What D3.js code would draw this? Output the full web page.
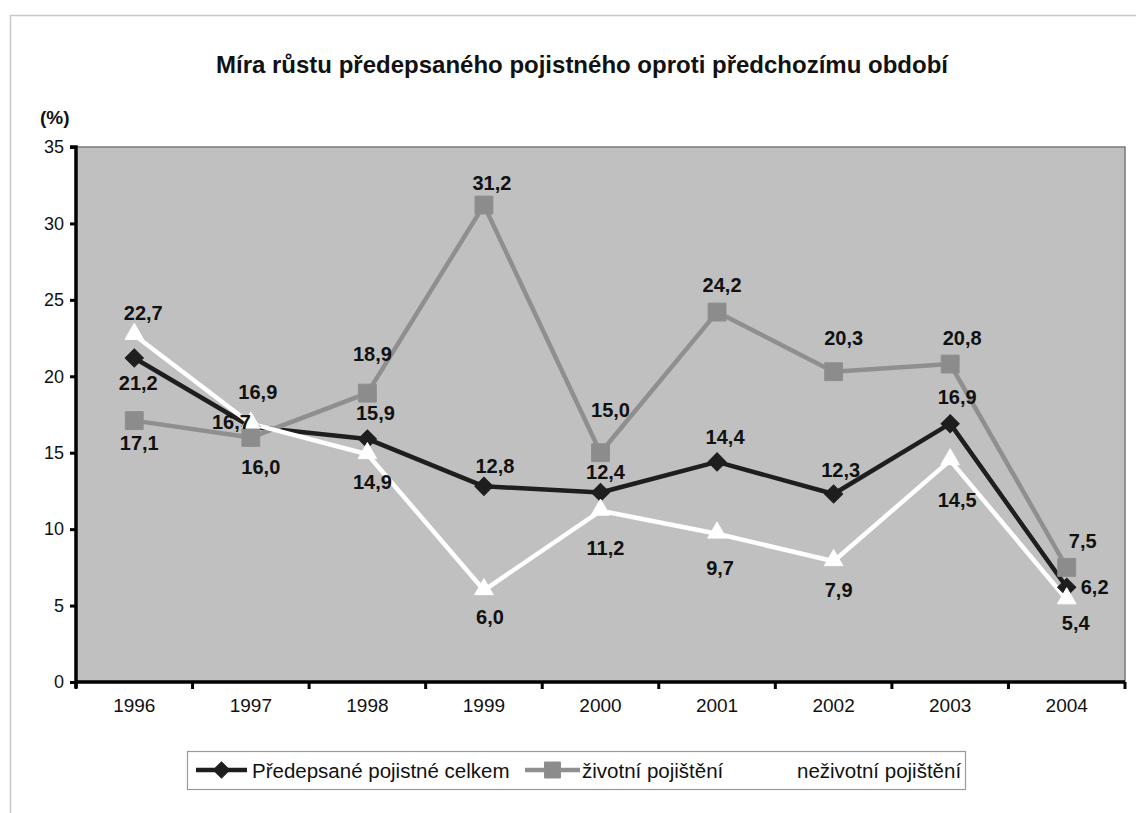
<!DOCTYPE html>
<html><head><meta charset="utf-8">
<script src="https://cdn.jsdelivr.net/npm/d3@7"></script>
<style>body{margin:0;background:#fff;} svg{display:block;} text{font-family:"Liberation Sans",Arial,sans-serif;}</style>
</head><body><svg id="c" width="1136" height="813"></svg>
<script>
const years = ["1996","1997","1998","1999","2000","2001","2002","2003","2004"];
const celkem = [21.2,16.7,15.9,12.8,12.4,14.4,12.3,16.9,6.2];
const zivotni = [17.1,16.0,18.9,31.2,15.0,24.2,20.3,20.8,7.5];
const nezivotni = [22.7,16.9,14.9,6.0,11.2,9.7,7.9,14.5,5.4];
const yTicks = [0,5,10,15,20,25,30,35];
const seriesNames = ["Předepsané pojistné celkem","životní pojištění","neživotní pojištění"];
const titleText = "Míra růstu předepsaného pojistného oproti předchozímu období";

// label offsets (layout only)
const offCelkem = [[4,25],[-18,-5],[8,-26],[11,-20],[5,-20],[8,-25],[7,-24],[7,-27],[27,0]];
const offZiv = [[5,22],[10,30],[5,-39],[8,-22],[10,-43],[5,-27],[10,-34],[12,-26],[16,-26]];
const offNez = [[9,-22],[7,-32],[5,28],[6,27],[5,37],[3,34],[5,29],[7,40],[9,24]];

const svg = d3.select("#c");
const L=76, R=1125, T=147, B=682;
const x = d3.scaleBand().domain(years).range([L,R]).padding(0);
const y = d3.scaleLinear().domain([0,35]).range([B,T]);
const cx = d=>x(d)+x.bandwidth()/2;

// outer border
svg.append("rect").attr("x",10.5).attr("y",15.5).attr("width",1300).attr("height",1000)
  .attr("fill","#fff").attr("stroke","#c8c8c8").attr("stroke-width",1.5);

// title
svg.append("text").attr("x",582).attr("y",73).attr("text-anchor","middle")
  .attr("font-size",24).attr("font-weight","bold").attr("fill","#111").text(titleText);
svg.append("text").attr("x",40).attr("y",124).attr("font-size",19).attr("font-weight","bold").attr("fill","#111").text("(%)");

// plot area
svg.append("rect").attr("x",L).attr("y",T).attr("width",R-L).attr("height",B-T)
  .attr("fill","#c0c0c0").attr("stroke","#7a7a7a").attr("stroke-width",1.5);

// axes
const ya = svg.append("g").attr("transform",`translate(${L},0)`)
  .call(d3.axisLeft(y).tickValues(yTicks).tickSize(6).tickPadding(6).tickFormat(d3.format("d")));
const xa = svg.append("g").attr("transform",`translate(0,${B})`)
  .call(d3.axisBottom(x).tickSize(0).tickPadding(17));
[ya,xa].forEach(g=>{
  g.select(".domain").attr("stroke","#000").attr("stroke-width",3.5);
  g.selectAll(".tick line").attr("stroke","#000").attr("stroke-width",3);
  g.selectAll("text").attr("font-size",19).attr("fill","#111").style("font-family",'"Liberation Sans",Arial,sans-serif');
});
ya.selectAll("text").attr("font-size",18);
ya.select(".domain").attr("d",`M-6,${T}H0V${B+6}`);
xa.select(".domain").attr("d",`M${L},0H${R}`);
// x ticks at band boundaries
const bounds = years.map(d=>x(d)).concat([R]);
svg.append("g").selectAll("line").data(bounds).join("line")
  .attr("x1",d=>d).attr("x2",d=>d).attr("y1",B).attr("y2",B+7)
  .attr("stroke","#000").attr("stroke-width",3);

const line = d3.line().x((d,i)=>cx(years[i])).y(d=>y(d));
const sym = (type,size)=>d3.symbol().type(type).size(size)();

const series = [
  {vals:celkem, color:"#1e1e1e", mfill:"#1e1e1e", sym:d3.symbolSquare, rot:45, size:165, off:offCelkem, anchor:(i)=> i===1?"end":(i===8?"start":"middle")},
  {vals:zivotni, color:"#8f8f8f", mfill:"#8c8c8c", sym:d3.symbolSquare, rot:0, size:320, off:offZiv, anchor:()=> "middle"},
  {vals:nezivotni, color:"#ffffff", mfill:"#ffffff", sym:d3.symbolTriangle, rot:0, size:150, off:offNez, anchor:()=> "middle"}
];

series.forEach(s=>{
  svg.append("path").attr("d",line(s.vals)).attr("fill","none").attr("stroke",s.color).attr("stroke-width",4.5).attr("stroke-linejoin","round");
});
series.forEach(s=>{
  svg.append("g").selectAll("path").data(s.vals).join("path")
    .attr("d",sym(s.sym,s.size))
    .attr("transform",(d,i)=>`translate(${cx(years[i])},${y(d) + (s.sym===d3.symbolTriangle?-1:0)}) rotate(${s.rot})`)
    .attr("fill",s.mfill).attr("stroke",s.color).attr("stroke-width",1);
});
const fmt = v=>v.toFixed(1).replace(".",",");
series.forEach(s=>{
  svg.append("g").selectAll("text").data(s.vals).join("text")
    .attr("x",(d,i)=>{
      const a=s.anchor(i); const o=s.off[i][0];
      if(a==="end") return cx(years[i])+0;
      if(a==="start") return cx(years[i])+14;
      return cx(years[i])+o;})
    .attr("y",(d,i)=>y(d)+s.off[i][1])
    .attr("dominant-baseline","central")
    .attr("text-anchor",(d,i)=>s.anchor(i))
    .attr("font-size",20).attr("font-weight","bold").attr("fill","#111")
    .text(d=>fmt(d));
});

// legend
const lg = svg.append("g");
lg.append("rect").attr("x",187.5).attr("y",751.5).attr("width",778).attr("height",38)
  .attr("fill","#fff").attr("stroke","#9a9a9a").attr("stroke-width",1.2);
const legItems = [
  {x1:196,x2:247,tx:252,s:series[0]},
  {x1:525,x2:580,tx:582,s:series[1]},
  {x1:740,x2:790,tx:797,s:series[2]}
];
const ly=770;
legItems.forEach((it,k)=>{
  lg.append("line").attr("x1",it.x1).attr("x2",it.x2).attr("y1",ly).attr("y2",ly).attr("stroke",it.s.color).attr("stroke-width",4.5);
  lg.append("path").attr("d",sym(it.s.sym,it.s.size*0.8)).attr("transform",`translate(${(it.x1+it.x2)/2},${ly}) rotate(${it.s.rot})`)
    .attr("fill",it.s.mfill).attr("stroke",it.s.color);
  lg.append("text").attr("x",it.tx).attr("y",ly).attr("dominant-baseline","central")
    .attr("font-size",20.5).attr("fill","#111").text(seriesNames[k]);
});
</script></body></html>
